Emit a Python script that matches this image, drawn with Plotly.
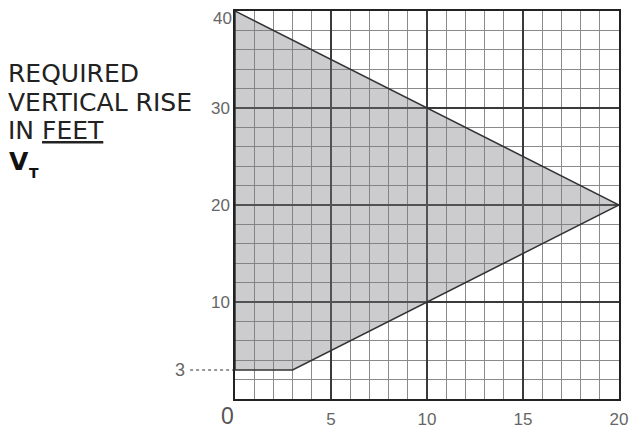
import plotly.graph_objects as go

# shaded region boundary (horizontal distance, required vertical rise)
region_x = [0, 20, 3, 0, 0]
region_y = [40, 20, 3, 3, 40]

x_ticks = [5, 10, 15, 20]
y_ticks = [10, 20, 30, 40]
floor_rise = 3

label_lines = ["REQUIRED", "VERTICAL RISE", "IN <u>FEET</u>"]

fig = go.Figure()

fig.add_trace(go.Scatter(
    x=region_x,
    y=region_y,
    mode="lines",
    fill="toself",
    fillcolor="rgba(120,120,128,0.38)",
    line=dict(color="#333333", width=1.5),
    hoverinfo="skip",
    showlegend=False
))

axis_font = dict(family="Liberation Sans, Arial", size=17, color="#666666")

fig.update_xaxes(
    range=[0, 20],
    tickvals=x_ticks,
    ticktext=[str(v) for v in x_ticks],
    tickfont=axis_font,
    ticks="",
    ticklabelstandoff=4,
    showgrid=True,
    gridcolor="#3a3a3a",
    gridwidth=1.5,
    minor=dict(dtick=1, showgrid=True, gridcolor="#8a8a8a", gridwidth=1),
    showline=True,
    linecolor="#222222",
    linewidth=1.5,
    mirror=True,
    zeroline=False,
    automargin=False,
    fixedrange=True
)

# the top label sits against the page edge, so it is drawn as an annotation
fig.update_yaxes(
    range=[0, 40],
    tickvals=y_ticks[:-1],
    ticktext=[str(v) for v in y_ticks[:-1]],
    tickfont=axis_font,
    ticks="",
    showgrid=True,
    gridcolor="#3a3a3a",
    gridwidth=1.5,
    minor=dict(tick0=0, dtick=2, showgrid=True, gridcolor="#8a8a8a", gridwidth=1),
    showline=True,
    linecolor="#222222",
    linewidth=1.5,
    mirror=True,
    zeroline=False,
    automargin=False,
    fixedrange=True
)

fig.add_annotation(
    xref="paper", yref="y", x=0, y=y_ticks[-1],
    text=str(y_ticks[-1]), showarrow=False, xanchor="right", yanchor="top",
    xshift=-1, yshift=4, font=axis_font
)

# dotted leader for the 3 ft floor
fig.add_shape(
    type="line",
    xref="paper", yref="y",
    x0=-0.117, x1=-0.005, y0=floor_rise, y1=floor_rise,
    line=dict(color="#777777", width=1.5, dash="dot")
)

fig.add_annotation(
    xref="paper", yref="y", x=-0.13, y=floor_rise,
    text=str(floor_rise), showarrow=False, xanchor="right",
    xshift=2, font=dict(family="Liberation Sans, Arial", size=18, color="#666666")
)

fig.add_annotation(
    xref="paper", yref="paper", x=0, y=0,
    text="0", showarrow=False, xanchor="right", yanchor="top",
    xshift=1, yshift=-2,
    font=dict(family="Liberation Sans, Arial", size=23, color="#555555")
)

for i, line in enumerate(label_lines):
    fig.add_annotation(
        xref="paper", yref="paper", x=0, y=1,
        xshift=-229, yshift=-(46 + 28.5 * i),
        text=line, showarrow=False, xanchor="left", yanchor="top", align="left",
        font=dict(family="DejaVu Sans", size=25, color="#222222")
    )

fig.add_annotation(
    xref="paper", yref="paper", x=0, y=1,
    xshift=-227, yshift=-135, borderpad=0,
    text="<b>V</b>",
    showarrow=False, xanchor="left", yanchor="top", align="left",
    font=dict(family="DejaVu Sans", size=25, color="#111111")
)
fig.add_annotation(
    xref="paper", yref="paper", x=0, y=1,
    xshift=-207, yshift=-153, borderpad=0,
    text="<b>T</b>",
    showarrow=False, xanchor="left", yanchor="top", align="left",
    font=dict(family="DejaVu Sans", size=14, color="#111111")
)

# the page adds an 8px body margin, so the figure is a little smaller
fig.update_layout(
    width=630,
    height=420,
    margin=dict(l=227, r=19, t=3, b=29),
    paper_bgcolor="white",
    plot_bgcolor="white",
    showlegend=False
)

fig.write_html("out.html")
